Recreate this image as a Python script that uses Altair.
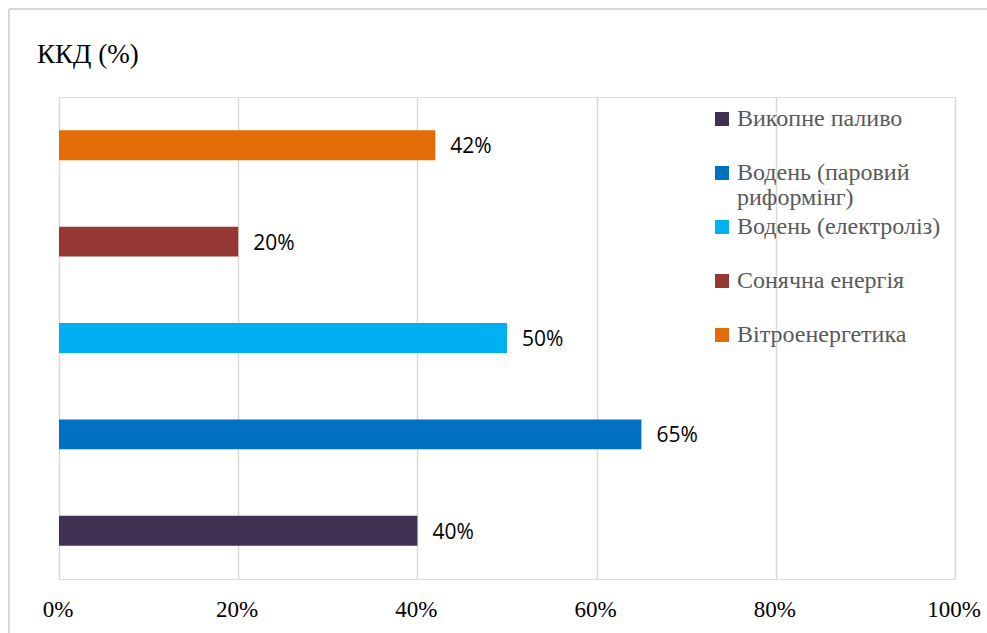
import altair as alt
import pandas as pd

categories = ["Викопне паливо", "Водень (паровий риформінг)", "Водень (електроліз)",
              "Сонячна енергія", "Вітроенергетика"]
values = [0.40, 0.65, 0.50, 0.20, 0.42]
colors = ["#403152", "#0070C0", "#00B0F0", "#953735", "#E36C09"]
x_ticks = [0, 0.2, 0.4, 0.6, 0.8, 1.0]
title_text = ["ККД (%)"]
wrap_first = "Водень (паровий"
wrap_second = ["риформінг)"]

df = pd.DataFrame({"cat": categories, "val": values})

SERIF = "Liberation Serif, Times New Roman, serif"
W, H = 896, 482
PL, PT, PR, PB = 59, 97, 32, 54
LEG_X, LEG_Y = 651, 10

y_enc = alt.Y("cat:N", sort=categories[::-1], axis=None,
              scale=alt.Scale(paddingInner=0.69, paddingOuter=0.345))
x_enc = alt.X("val:Q", scale=alt.Scale(domain=[0, 1], nice=False),
              axis=alt.Axis(values=x_ticks, format=".0%", title=None, domain=False, ticks=False,
                            grid=True, gridColor="#D9D9D9", gridWidth=1.5, labelFlush=False,
                            labelFont=SERIF, labelFontSize=23, labelColor="#000000",
                            labelPadding=19, labelOffset=-1.5))

bars = alt.Chart(df).mark_bar().encode(
    x=x_enc,
    y=y_enc,
    color=alt.Color("cat:N", scale=alt.Scale(domain=categories, range=colors),
                    sort=categories,
                    legend=alt.Legend(
                        title=None, orient="none", legendX=LEG_X, legendY=LEG_Y,
                        symbolType="square", symbolSize=196, symbolStrokeWidth=0,
                        labelFont=SERIF, labelFontSize=24, labelColor="#595959",
                        labelOffset=3, rowPadding=30, labelLimit=400,
                        labelExpr=f"datum.label == '{categories[1]}' ? '{wrap_first}' : datum.label")),
)

labels = alt.Chart(df).mark_text(align="left", baseline="middle", dx=15, dy=2,
                                 font="Open Sans", fontSize=21, color="#000000").encode(
    x="val:Q", y=alt.Y("cat:N", sort=categories[::-1]),
    text=alt.Text("val:Q", format=".0%"),
)

wrap = alt.Chart(pd.DataFrame({"t": wrap_second})).mark_text(
    align="left", baseline="middle", font=SERIF, fontSize=24, color="#595959"
).encode(x=alt.value(737 - PL), y=alt.value(198 - PT), text="t:N")

title = alt.Chart(pd.DataFrame({"t": title_text})).mark_text(
    align="left", baseline="alphabetic", font=SERIF, fontSize=27, color="#000000"
).encode(x=alt.value(37 - PL), y=alt.value(63 - PT), text="t:N")

frame_top = alt.Chart(df).mark_rule(color="#D9D9D9", strokeWidth=1.5).encode(
    x=alt.value(9 - PL), x2=alt.value(1100), y=alt.value(9 - PT))
frame_left = alt.Chart(df).mark_rule(color="#D9D9D9", strokeWidth=1.5).encode(
    x=alt.value(9 - PL), y=alt.value(9 - PT), y2=alt.value(700))

chart = alt.layer(frame_top, frame_left, title, bars, labels, wrap).properties(
    width=W, height=H,
    padding={"left": PL, "top": PT, "right": PR, "bottom": PB},
    autosize=alt.AutoSizeParams(type="none"),
).configure_view(stroke=None).configure(background="white")

chart.save("out.html", embed_options={"renderer": "svg", "actions": False})
